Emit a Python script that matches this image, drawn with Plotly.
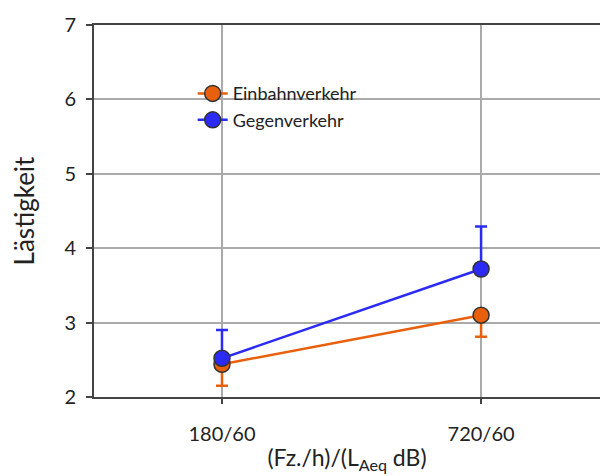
import plotly.graph_objects as go

categories = ["180/60", "720/60"]
einbahn = [2.44, 3.10]
einbahn_err_minus = [0.29, 0.29]
gegen = [2.52, 3.72]
gegen_err_plus = [0.38, 0.57]

orange = "#E8600C"
blue = "#2B2BF5"
font = "Lato, Open Sans, sans-serif"

fig = go.Figure()
fig.add_trace(go.Scatter(
    x=[0, 1], y=einbahn, name="Einbahnverkehr", mode="lines+markers",
    line=dict(color=orange, width=2.5),
    marker=dict(size=16, color=orange, line=dict(color="#333333", width=1.5)),
    error_y=dict(type="data", symmetric=False, array=[0, 0], arrayminus=einbahn_err_minus,
                 color=orange, thickness=2.5, width=6),
))
fig.add_trace(go.Scatter(
    x=[0, 1], y=gegen, name="Gegenverkehr", mode="lines+markers",
    line=dict(color=blue, width=2.5),
    marker=dict(size=16, color=blue, line=dict(color="#333333", width=1.5)),
    error_y=dict(type="data", symmetric=False, array=gegen_err_plus, arrayminus=[0, 0],
                 color=blue, thickness=2.5, width=6),
))

fig.update_layout(
    width=600, height=476,
    margin=dict(l=94, r=0, t=25, b=79),
    paper_bgcolor="white", plot_bgcolor="white",
    font=dict(family=font, color="#222222"),
    showlegend=True,
    legend=dict(x=0.195, y=0.865, xanchor="left", yanchor="top",
                bgcolor="rgba(0,0,0,0)", font=dict(size=18, color="#222222"),
                tracegroupgap=0, itemwidth=30),
    xaxis=dict(
        range=[-0.494, 1.459], tickmode="array", tickvals=[0, 1], ticktext=categories,
        showgrid=True, gridcolor="#AAAAAA", gridwidth=2,
        showline=True, linecolor="#444444", linewidth=2, mirror=True,
        ticks="outside", ticklen=5, tickcolor="#444444", tickwidth=1.5,
        ticklabelstandoff=13,
        tickfont=dict(size=20, family=font, color="#222222"),
        title=dict(text="(Fz./h)/(L<sub>Aeq</sub> dB)", font=dict(size=23, family=font, color="#222222"), standoff=6),
        zeroline=False,
    ),
    yaxis=dict(
        range=[2, 7], tickvals=[2, 3, 4, 5, 6, 7],
        showgrid=True, gridcolor="#AAAAAA", gridwidth=2,
        showline=True, linecolor="#444444", linewidth=2, mirror=False,
        ticks="outside", ticklen=6, tickcolor="#444444", tickwidth=1.5,
        ticklabelstandoff=6,
        tickfont=dict(size=20, family=font, color="#222222"),
        title=dict(text="Lästigkeit", font=dict(size=26, family=font, color="#222222"), standoff=22),
        zeroline=False,
    ),
)

fig.write_html("out.html")
